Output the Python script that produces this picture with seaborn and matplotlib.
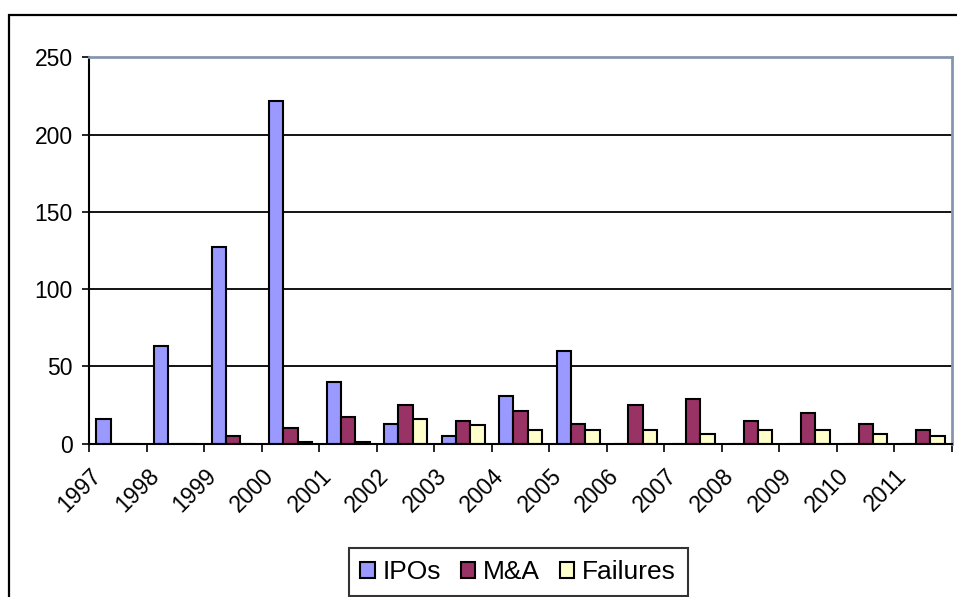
import numpy as np
import pandas as pd
import matplotlib
matplotlib.use("Agg")
import matplotlib.pyplot as plt
import matplotlib.transforms as mtransforms
from matplotlib.patches import Rectangle
import seaborn as sns

years = ["1997", "1998", "1999", "2000", "2001", "2002", "2003", "2004",
         "2005", "2006", "2007", "2008", "2009", "2010", "2011"]
ipos = [16, 63, 127, 222, 40, 13, 5, 31, 60, 0, 0, 0, 0, 0, 0]
mna = [0, 0, 5, 10, 17, 25, 15, 21, 13, 25, 29, 15, 20, 13, 9]
failures = [0, 0, 0, 1, 1, 16, 12, 9, 9, 9, 6, 9, 9, 6, 5]
series = ["IPOs", "M&A", "Failures"]
colors = ["#9999FF", "#993366", "#FFFFCC"]
y_ticks = [0, 50, 100, 150, 200, 250]

df = pd.DataFrame({
    "year": years * 3,
    "value": ipos + mna + failures,
    "series": [series[0]] * len(years) + [series[1]] * len(years) + [series[2]] * len(years),
})

sns.set_style("white")
plt.rcParams["font.family"] = ["Liberation Sans", "DejaVu Sans"]
plt.rcParams["text.color"] = "black"

W, H = 957, 597
fig = plt.figure(figsize=(W / 100, H / 100), dpi=100)
left, right, top, bottom = 89.3, 952, 57.3, 443.7
ax = fig.add_axes([left / W, 1 - bottom / H, (right - left) / W, (bottom - top) / H])

sns.barplot(data=df, x="year", y="value", hue="series", palette=colors,
            hue_order=series, order=years, width=0.75, gap=0,
            edgecolor="black", linewidth=1.5, saturation=1, ax=ax, legend=True)

n = len(years)
ax.set_xlim(-0.5, n - 0.5)
ax.set_ylim(y_ticks[0], y_ticks[-1])
ax.set_yticks(y_ticks)
ax.set_xlabel("")
ax.set_ylabel("")

# gridlines
ax.yaxis.grid(True, color="black", linewidth=1.3)
ax.xaxis.grid(False)
ax.set_axisbelow(True)

# spines
for s in ["left", "bottom"]:
    ax.spines[s].set_color("black")
    ax.spines[s].set_linewidth(1.5)
for s in ["top", "right"]:
    ax.spines[s].set_color("#8796AE")
    ax.spines[s].set_linewidth(2.0)

# y ticks
ax.tick_params(axis="y", which="major", direction="out", length=5, width=1.2,
               color="black", pad=7, labelsize=16.5, labelcolor="black", left=True)

# x ticks: major at boundaries (no labels), minor at centers (labels)
ax.set_xticks(np.arange(n + 1) - 0.5)
ax.set_xticklabels([])
ax.set_xticks(np.arange(n), minor=True)
ax.set_xticklabels(years, minor=True, rotation=45, ha="right", va="top")
ax.tick_params(axis="x", which="major", direction="out", length=5.5, width=1.2,
               color="black", bottom=True)
ax.tick_params(axis="x", which="minor", length=0, pad=15, labelsize=16.5,
               labelcolor="black")
offset = mtransforms.ScaledTranslation(-12 / 100, 0, fig.dpi_scale_trans)
for lbl in ax.get_xticklabels(minor=True):
    lbl.set_transform(lbl.get_transform() + offset)

# legend
handles, labels = ax.get_legend_handles_labels()
ax.get_legend().remove()
leg = fig.legend(handles, labels, ncol=3, loc="lower left",
                 bbox_to_anchor=(348.5 / W, 1 - 596 / H, (688 - 348.5) / W, (596 - 549.5) / H),
                 mode="expand", fontsize=19, frameon=True, fancybox=False,
                 handlelength=0.55, handleheight=0.55, handletextpad=0.3,
                 columnspacing=0.5, borderpad=0.45, borderaxespad=0,
                 labelcolor="black")
leg.get_frame().set_edgecolor("black")
leg.get_frame().set_linewidth(1.5)
for h in leg.legend_handles:
    h.set_edgecolor("black")
    h.set_linewidth(1.5)

# outer chart frame (only top and left visible)
fig.add_artist(Rectangle((9 / W, -0.2), 1.2, (H - 15) / H + 0.2,
                         transform=fig.transFigure, fill=False,
                         edgecolor="black", linewidth=1.6, clip_on=False))

fig.savefig("out.png", dpi=100)
